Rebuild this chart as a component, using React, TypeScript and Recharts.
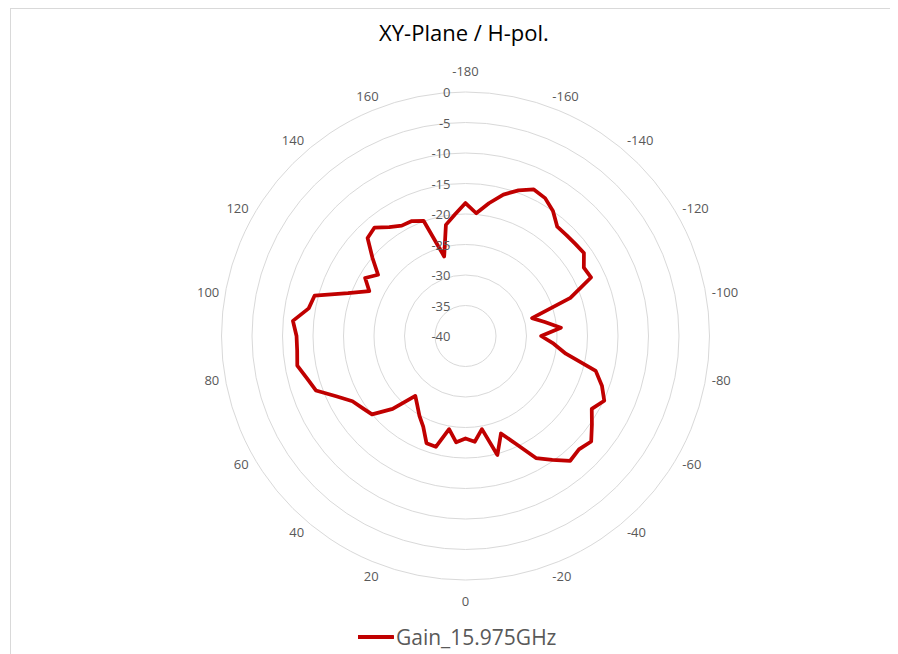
import React from 'react';
import {
    RadarChart,
    Radar,
    PolarGrid,
    PolarAngleAxis,
    PolarRadiusAxis,
    Legend,
} from 'recharts';

// Angle categories (deg), clockwise from the top
const angles = [
    -180, -175, -170, -165, -160, -155, -150, -145, -140, -135, -130, -125,
    -120, -115, -110, -105, -100, -95, -90, -85, -80, -75, -70, -65,
    -60, -55, -50, -45, -40, -35, -30, -25, -20, -15, -10, -5,
    0, 5, 10, 15, 20, 25, 30, 35, 40, 45, 50, 55,
    60, 65, 70, 75, 80, 85, 90, 95, 100, 105, 110, 115,
    120, 125, 130, 135, 140, 145, 150, 155, 160, 165, 170, 175,
];

// Gain in dB
const gain = [
    -18.2, -19.8, -17.9, -16.0, -14.6, -13.5, -13.9, -15.0, -16.6, -16.6, -16.5, -16.3,
    -17.6, -17.3, -21.7, -28.7, -26.8, -24.3, -27.6, -25.5, -23.3, -17.9, -16.2, -14.9,
    -16.1, -14.7, -13.1, -13.7, -13.3, -15.2, -16.9, -20.5, -23.0, -19.8, -24.5, -22.6,
    -23.2, -22.5, -24.5, -21.2, -21.3, -23.6, -24.9, -26.2, -27.2, -23.1, -20.0, -19.4,
    -18.6, -16.6, -13.9, -13.1, -12.0, -12.3, -12.3, -11.6, -13.9, -14.4, -19.5, -22.6,
    -21.0, -22.5, -20.1, -17.3, -16.8, -18.2, -19.1, -19.2, -19.9, -26.5, -21.5, -20.0,
];

const radiusTicks = [-40, -35, -30, -25, -20, -15, -10, -5, 0];
const labelledAngles = [
    -180, -160, -140, -120, -100, -80, -60, -40, -20,
    0, 20, 40, 60, 80, 100, 120, 140, 160,
];

const seriesName = 'Gain_15.975GHz';

const data = angles.map((a, i) => ({ angle: a, gain: gain[i] }));

const W = 881;
const H = 645;
const CX = 454.5;
const CY = 327;
const R = 244;
const FONT = '"Open Sans", "Liberation Sans", sans-serif';
const TEXT_GRAY = '#595959';
const TICK_FS = 13;

// rough text width so the label box can sit just outside the ring (Excel style)
const textWidth = (s: string) => {
    let w = 0;
    for (const ch of s) w += ch === '-' ? 0.322 : 0.572;
    return w * TICK_FS;
};

const AngleTick = ({ payload }: any) => {
    const v = Number(payload.value);
    if (!labelledAngles.includes(v)) return null;
    const phi = ((v + 180) * Math.PI) / 180;
    const s = Math.sin(phi);
    const c = Math.cos(phi);
    let x: number;
    let y: number;
    if (Math.abs(s) < 0.01) {
        // straight up / straight down
        x = CX;
        y = CY - (R + 21) * c;
    } else {
        const r = R + 4;
        const k = textWidth(String(v)) / 2 + 2;
        x = CX + r * s + Math.sign(s) * k;
        y = CY - r * c - c * 7.5;
    }
    return (
        <text
            x={x}
            y={y}
            textAnchor="middle"
            dominantBaseline="central"
            fontSize={TICK_FS}
            fontFamily={FONT}
            fill={TEXT_GRAY}
        >
            {v}
        </text>
    );
};

const RadiusTick = ({ x, y, payload }: any) => (
    <text
        x={x - 15}
        y={y}
        textAnchor="end"
        dominantBaseline="central"
        fontSize={TICK_FS}
        fontFamily={FONT}
        fill={TEXT_GRAY}
    >
        {payload.value}
    </text>
);

const renderLegend = () => (
    <div style={{ display: 'flex', alignItems: 'center', fontFamily: FONT }}>
        <svg width={36} height={24}>
            <line x1={0} y1={12} x2={35} y2={12} stroke="#c00000" strokeWidth={4} strokeLinecap="round" />
        </svg>
        <span style={{ fontSize: 21, color: TEXT_GRAY, marginLeft: 2, lineHeight: '24px' }}>
            {seriesName}
        </span>
    </div>
);

export default function App() {
    return (
        <div
            style={{
                position: 'relative',
                marginLeft: 2,
                width: W + 1,
                height: H,
                borderTop: '1px solid #d9d9d9',
                borderLeft: '1px solid #d9d9d9',
                borderRight: '1px solid #d9d9d9',
                background: '#fff',
            }}
        >
            <div
                style={{
                    position: 'absolute',
                    left: 453,
                    top: 9,
                    transform: 'translateX(-50%)',
                    whiteSpace: 'nowrap',
                    fontFamily: FONT,
                    fontSize: 22,
                    lineHeight: '28px',
                    color: '#000',
                }}
            >
                XY-Plane / H-pol.
            </div>
            <RadarChart
                width={W}
                height={H}
                cx={CX}
                cy={CY}
                outerRadius={R}
                innerRadius={0}
                data={data}
                margin={{ top: 0, right: 0, bottom: 0, left: 0 }}
            >
                <PolarGrid gridType="circle" radialLines={false} stroke="#d9d9d9" strokeWidth={1} />
                <PolarAngleAxis dataKey="angle" axisLine={false} tickLine={false} tick={<AngleTick />} />
                <PolarRadiusAxis
                    angle={90}
                    type="number"
                    domain={[-40, 0]}
                    ticks={radiusTicks}
                    tickCount={9}
                    axisLine={false}
                    tickLine={false}
                    tick={<RadiusTick />}
                />
                <Radar
                    name={seriesName}
                    dataKey="gain"
                    stroke="#c00000"
                    strokeWidth={3.75}
                    strokeLinejoin="round"
                    fill="none"
                    fillOpacity={0}
                    dot={false}
                    isAnimationActive={false}
                />
                <Legend
                    content={renderLegend}
                    wrapperStyle={{ position: 'absolute', left: 347, top: 616, width: 'auto' }}
                />
            </RadarChart>
        </div>
    );
}
